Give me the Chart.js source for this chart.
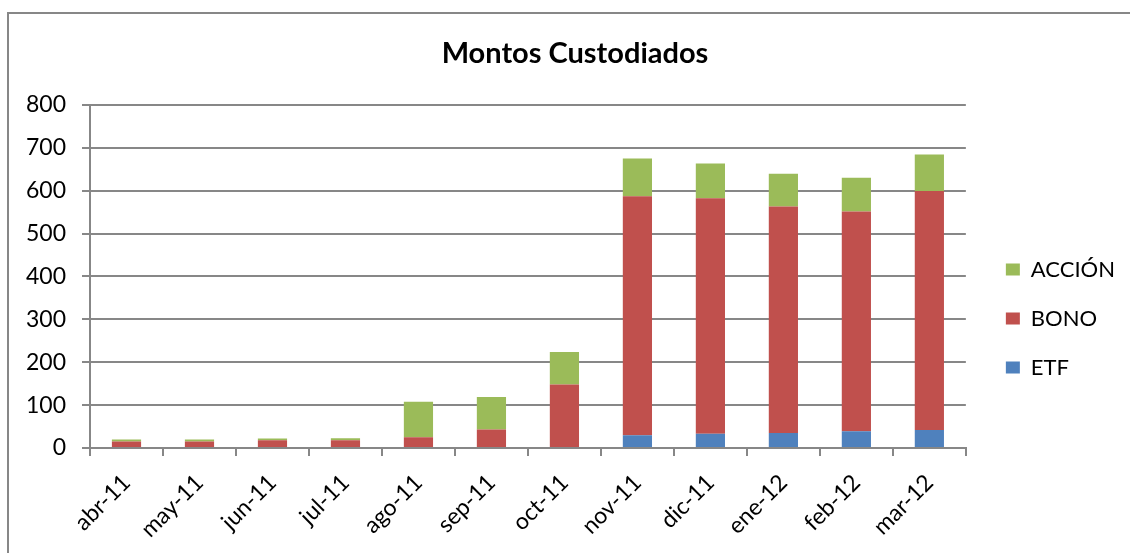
<!DOCTYPE html>
<html>
<head>
<meta charset="utf-8">
<script src="https://cdn.jsdelivr.net/npm/chart.js@4"></script>
<style>
  html, body { margin: 0; padding: 0; background: #fff; overflow: hidden; }
  #wrap { position: relative; width: 1130px; height: 553px; }
</style>
</head>
<body>
<div id="wrap"><canvas id="montosChart"></canvas></div>
<script>
// data
const months = ['abr-11', 'may-11', 'jun-11', 'jul-11', 'ago-11', 'sep-11', 'oct-11', 'nov-11', 'dic-11', 'ene-12', 'feb-12', 'mar-12'];
const etf = [0, 0, 0, 0, 0, 0, 0, 30, 33, 35, 39, 42];
const bono = [15, 15, 18, 18, 25, 43, 148, 557, 549, 528, 512, 557];
const accion = [5, 5, 4, 5, 83, 76, 76, 88, 81, 76, 79, 85];

const gridGray = '#878787';
const fontFamily = "Lato, 'Noto Sans', sans-serif";

Chart.defaults.font.family = fontFamily;
Chart.defaults.color = '#000';

// grey frame round the chart (top and left edges are visible)
const framePlugin = {
    id: 'frame',
    beforeDraw(chart) {
        const ctx = chart.ctx;
        ctx.save();
        ctx.strokeStyle = gridGray;
        ctx.lineWidth = 2;
        ctx.beginPath();
        ctx.moveTo(8, chart.height + 5);
        ctx.lineTo(8, 13);
        ctx.lineTo(chart.width + 5, 13);
        ctx.stroke();
        ctx.restore();
    }
};

// nudge the legend and title blocks to where the original has them
const boxNudge = {
    id: 'boxNudge',
    afterLayout(chart) {
        const lg = chart.legend;
        if (lg) { lg.left += 13; lg.right += 13; lg.top += 42; lg.bottom += 42; }
        const t = chart.titleBlock;
        if (t) { t.left += 19; t.right += 19; }
    }
};

new Chart(document.getElementById('montosChart'), {
    type: 'bar',
    data: {
        labels: months,
        datasets: [
            { label: 'ETF', data: etf, backgroundColor: '#4F81BD' },
            { label: 'BONO', data: bono, backgroundColor: '#C0504D' },
            { label: 'ACCIÓN', data: accion, backgroundColor: '#9BBB59' }
        ]
    },
    options: {
        responsive: true,
        maintainAspectRatio: false,
        animation: false,
        layout: { padding: { left: 0, right: 18, top: 0, bottom: 0 } },
        datasets: { bar: { barPercentage: 0.4, categoryPercentage: 1 } },
        plugins: {
            title: {
                display: true,
                text: 'Montos Custodiados',
                color: '#000',
                font: { size: 29, weight: 'bold' },
                padding: { top: 36, bottom: 34 }
            },
            legend: {
                position: 'right',
                reverse: true,
                labels: {
                    boxWidth: 14,
                    boxHeight: 12,
                    padding: 27,
                    color: '#000',
                    font: { size: 22 }
                }
            },
            tooltip: { enabled: false }
        },
        scales: {
            x: {
                stacked: true,
                afterFit: s => { s.height = 105; },
                grid: { drawOnChartArea: false, drawTicks: true, tickLength: 8, color: gridGray, lineWidth: 2 },
                border: { color: gridGray, width: 2 },
                ticks: { minRotation: 45, maxRotation: 45, autoSkip: false, font: { size: 23 }, padding: 13 }
            },
            y: {
                stacked: true,
                min: 0,
                max: 800,
                afterFit: s => { s.width = 90; },
                grid: { color: gridGray, lineWidth: 2, tickLength: 8 },
                border: { color: gridGray, width: 2 },
                ticks: { stepSize: 100, font: { size: 23 }, padding: 16 }
            }
        }
    },
    plugins: [framePlugin, boxNudge]
});
</script>
</body>
</html>
